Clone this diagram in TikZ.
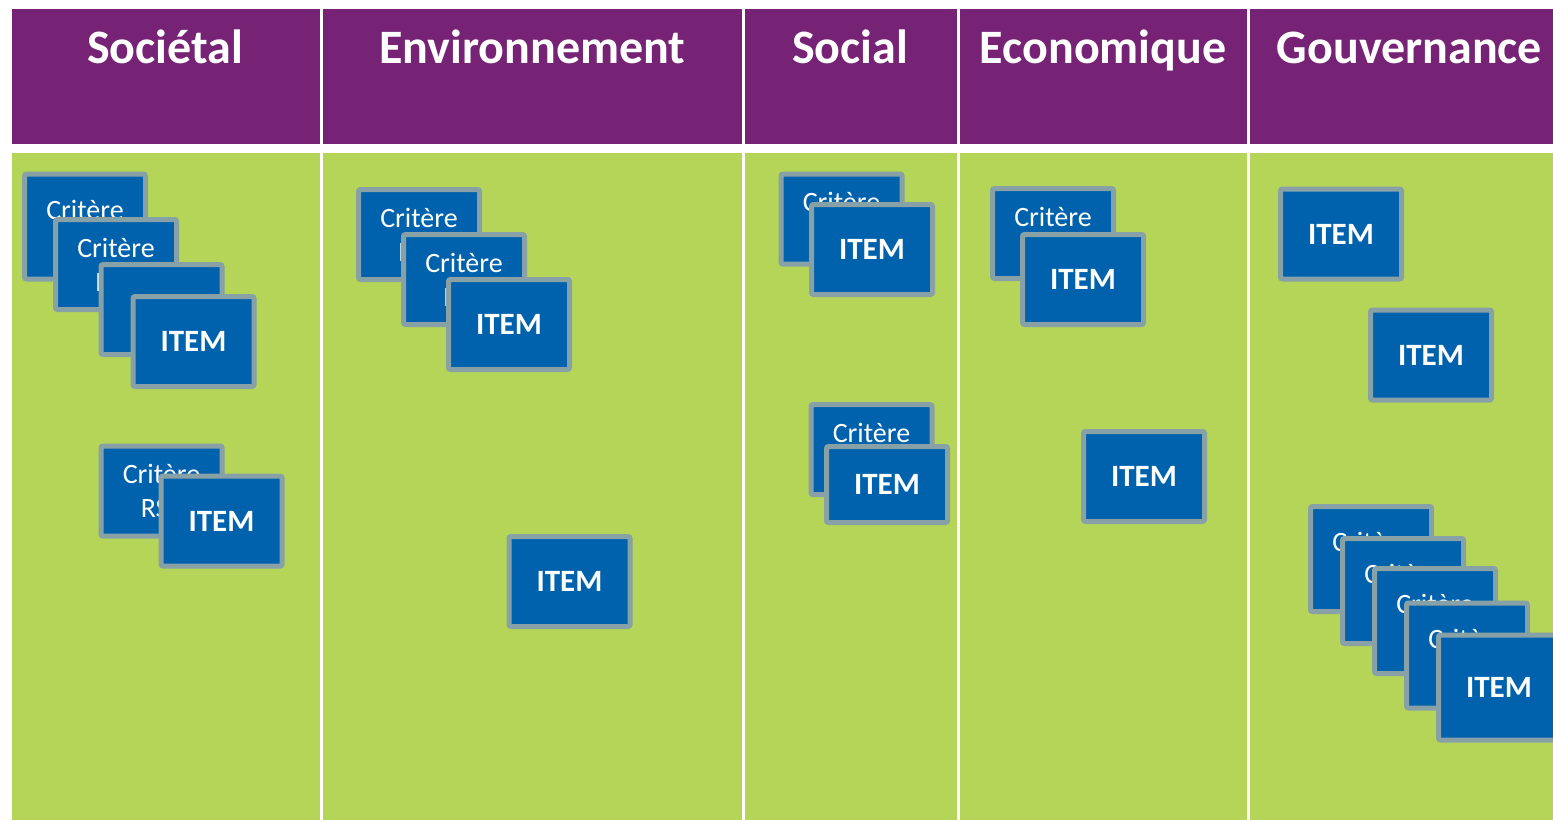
\documentclass[tikz,border=0pt]{standalone}
\usepackage{fontspec}
\setmainfont{Carlito}
\usepackage{tikz}
\usetikzlibrary
  {
    positioning, % place nodes relative to other nodes
  }
\definecolor{bandpurple}{HTML}{762376}
\definecolor{bandgreen}{HTML}{B4D557}
\definecolor{cardblue}{HTML}{0062AC}
\definecolor{cardedge}{HTML}{87A1A6}

\begin{document}
\begin{tikzpicture}
    [
      x=1pt,
      y=-1pt,
      header/.style=
        {
          text=white,
          font=\fontsize{48}{56}\bfseries\selectfont,
          anchor=base,
          inner sep=0pt,
        },
      card/.style=
        {
          rectangle,
          draw=cardedge,
          fill=cardblue,
          line width=5pt,
          rounded corners=2pt,
          minimum width=121pt,
          minimum height=90pt,
          inner sep=0pt,
          text=white,
          align=center,
        },
      crit/.style={card, font=\fontsize{28}{34}\selectfont},
      item/.style={card, font=\fontsize{31}{36}\bfseries\selectfont},
      tall/.style={minimum height=105pt},
    ]
    \clip (0,0) rectangle (1553,820);
    \fill[white] (0,0) rectangle (1553,820);

    % columns
    \foreach \xa/\xb/\xm/\colname/\coltitle in
      {
        12/320/165/soc/Sociétal,
        323/742/532.5/env/Environnement,
        745/957/850/sol/Social,
        960/1247/1103/eco/Economique,
        1250/1570/1409.5/gov/Gouvernance%
      }
    {
      \fill[bandpurple] (\xa,9) rectangle (\xb,144);
      \fill[bandgreen] (\xa,153) rectangle (\xb,820);
      \node[header] (head-\colname) at (\xm,63) {\coltitle};
    }

    % Societal
    \node[crit,tall] (soc-c1) at (85,226.5)  {Critère\\RSE};
    \node[crit]      (soc-c2) at (116,264.5) {Critère\\RSE};
    \node[crit]      (soc-c3) at (161.5,309.5) {};
    \node[item]      (soc-i1) at (193.5,341.5) {ITEM};
    \node[crit]      (soc-c4) at (161.5,491) {Critère\\RSE};
    \node[item]      (soc-i2) at (221.5,521) {ITEM};

    % Environnement
    \node[crit] (env-c1) at (419,234.5) {Critère\\RSE};
    \node[crit] (env-c2) at (464,279.5) {Critère\\RSE};
    \node[item] (env-i1) at (509,324.5) {ITEM};
    \node[item] (env-i2) at (569.5,581.5) {ITEM};

    % Social
    \node[crit] (sol-c1) at (841.5,219) {Critère\\RSE};
    \node[item] (sol-i1) at (872,249.5) {ITEM};
    \node[crit] (sol-c2) at (871.5,449.5) {Critère\\RSE};
    \node[item,minimum height=76pt] (sol-i2) at (887,484.5) {ITEM};

    % Economique
    \node[crit] (eco-c1) at (1053,233.5) {Critère\\RSE};
    \node[item] (eco-i1) at (1083,279.5) {ITEM};
    \node[item] (eco-i2) at (1144,476.5) {ITEM};

    % Gouvernance
    \node[item]      (gov-i1) at (1341,234) {ITEM};
    \node[item]      (gov-i2) at (1431,355) {ITEM};
    \node[crit,tall] (gov-c1) at (1371,559) {Critère\\RSE};
    \node[crit,tall] (gov-c2) at (1403,591) {Critère\\RSE};
    \node[crit,tall] (gov-c3) at (1435,621) {Critère\\RSE};
    \node[crit,tall] (gov-c4) at (1467,655.5) {Critère\\RSE};
    \node[item,tall] (gov-i3) at (1499,687.5) {ITEM};
  \end{tikzpicture}
\end{document}
